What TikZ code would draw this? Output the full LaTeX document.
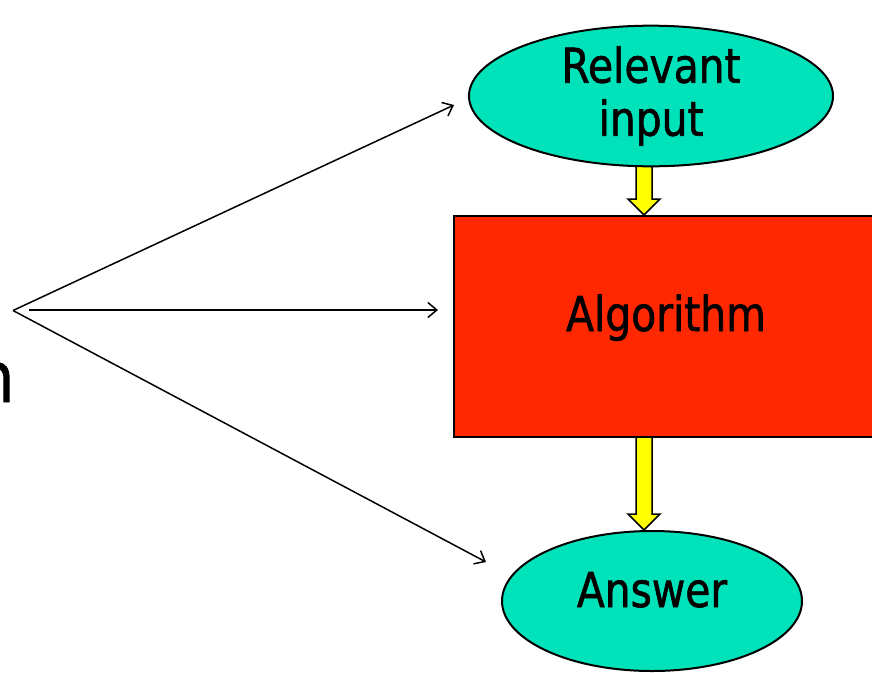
\documentclass[tikz,border=0pt]{standalone}
\usepackage{fontspec}
\setmainfont{DejaVu Sans}[FakeStretch=0.85,FakeBold=1.2]
\usetikzlibrary{shapes.geometric,arrows.meta,calc,backgrounds}
\definecolor{termfill}{RGB}{0,226,186}
\definecolor{procfill}{RGB}{255,40,0}
\definecolor{flowyellow}{RGB}{255,255,0}
% hollow block arrow from #1 (tail) to #2 (tip), pointing down
\newcommand{\yellowflow}[2]{%
  \draw[blockarrow] ($(#1)+(-8,0)$) -- ($(#2)+(-8,-16)$) -- ($(#2)+(-16,-16)$)
    -- (#2) -- ($(#2)+(16,-16)$) -- ($(#2)+(8,-16)$) -- ($(#1)+(8,0)$) -- cycle;}
\begin{document}
\begin{tikzpicture}[x=1pt,y=-1pt,
  terminal/.style={ellipse, draw, line width=2pt, fill=termfill, inner sep=0pt,
    font=\fontsize{48}{53}\selectfont, align=center},
  process/.style={rectangle, draw, line width=2pt, fill=procfill, inner sep=0pt,
    font=\fontsize{48}{53}\selectfont},
  link/.style={line width=1.5pt, -{Straight Barb[length=9pt,width=15pt]}},
  blockarrow/.style={draw, line width=1.5pt, fill=flowyellow, line join=miter}]
\useasboundingbox (0,0) rectangle (872,672);

\node[terminal, minimum width=364pt, minimum height=112pt] (rel) at (651,96) {Relevant\\input};
\node[process, minimum width=424pt, minimum height=221pt,
  text height=36pt, text depth=27pt] (alg) at (666,326.5) {Algorithm};
\node[terminal, minimum width=300pt, minimum height=140pt,
  text height=35pt, text depth=23pt] (ans) at (652,601) {Answer};

\node[font=\fontsize{70}{80}\selectfont, anchor=base east, inner sep=0pt] (cut) at (14.5,402) {n};

\coordinate (ax) at (644,0);
\begin{scope}[on background layer]
  \yellowflow{rel.center -| ax}{alg.north -| ax}
  \yellowflow{alg.center -| ax}{ans.north -| ax}
\end{scope}

\coordinate (v) at (13,310.5);
\coordinate (hs) at (29,310);
\coordinate (tin) at (454,105);
\coordinate (talg) at (438,310);
\coordinate (tans) at (486,562);
\draw[link] (v) -- (tin);
\draw[link] (hs) -- (talg);
\draw[link] (v) -- (tans);
\end{tikzpicture}
\end{document}
